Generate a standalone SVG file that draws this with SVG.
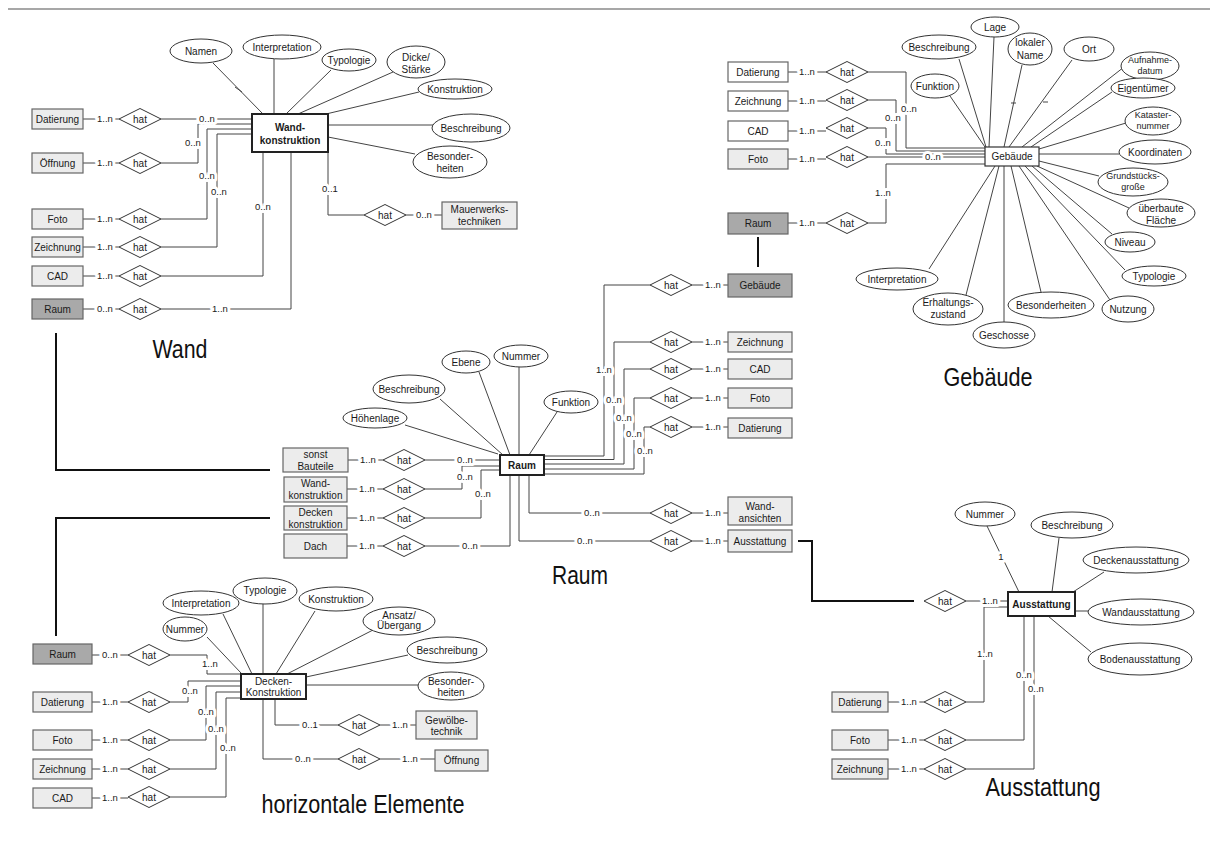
<svg xmlns="http://www.w3.org/2000/svg" xmlns:xlink="http://www.w3.org/1999/xlink" width="1214" height="865" viewBox="0 0 1214 865">
<style>
text{font-family:"Liberation Sans",Arial,sans-serif;font-size:10px;fill:#1a1a1a;text-anchor:middle}
.e{fill:#fff;stroke:#333;stroke-width:1}
.b{fill:#ececec;stroke:#666;stroke-width:1.2}
.bw{fill:#fff;stroke:#666;stroke-width:1.2}
.bd{fill:#a9a9a9;stroke:#666;stroke-width:1.2}
.m{fill:#fff;stroke:#222;stroke-width:2}
.dm{fill:#fff;stroke:#333;stroke-width:1}
.ln{fill:none;stroke:#444;stroke-width:1}
.th{fill:none;stroke:#111;stroke-width:2}
.c{font-size:9.5px;paint-order:stroke;stroke:#fff;stroke-width:6px;stroke-linejoin:round}
.s{font-size:9px}
.big{font-size:25px;fill:#111}
.bold{font-weight:bold}
</style>
<defs>
<polygon id="dm" class="dm" points="-21,0 0,-10.5 21,0 0,10.5"/>
</defs>
<rect width="1214" height="865" fill="#fff"/>
<line x1="8" y1="9" x2="1210" y2="9" stroke="#8a8a8a" stroke-width="1.5"/>

<g id="connectors">
<!-- Wand -->
<path class="ln" d="M83,119H119M161,119H252"/>
<path class="ln" d="M83,163H119M161,163H198V124H252"/>
<path class="ln" d="M83,219H119M161,219H207V129H252"/>
<path class="ln" d="M83,247H119M161,247H217V134H252"/>
<path class="ln" d="M83,276H119M161,276H263V152"/>
<path class="ln" d="M83,309H119M161,309H291V152"/>
<path class="ln" d="M213,63L263,114M274,59V114M331,70L286,114M393,72L298,114M419,92L326,114M328,125H433M328,137L415,154"/>
<path class="ln" d="M235,87L242,92"/>
<path class="ln" d="M328,152V215H364M406,215H442"/>
<!-- Raum -->
<path class="ln" d="M348,460H383M425,460H500"/>
<path class="ln" d="M347,489H383M425,489H462V466H500"/>
<path class="ln" d="M347,518H383M425,518H481V470H500"/>
<path class="ln" d="M347,546H383M425,546H510V475"/>
<path class="ln" d="M544,456H604V285H650M692,285H728"/>
<path class="ln" d="M544,459.5H614V342H650M692,342H728"/>
<path class="ln" d="M544,464H624V369H650M692,369H728"/>
<path class="ln" d="M544,469H634V398H650M692,398H728"/>
<path class="ln" d="M544,474H644V427H650M692,427H728"/>
<path class="ln" d="M529,475V513H650M692,513H728"/>
<path class="ln" d="M519,475V541H650M692,541H728"/>
<path class="ln" d="M405,425L498,454M440,399L503,455M479,372L510,455M519,367V455M557,412L529,455"/>
<!-- Gebaeude -->
<path class="ln" d="M788,72H826M868,72H906V148H985"/>
<path class="ln" d="M788,101H826M868,100H896V151H985"/>
<path class="ln" d="M788,131H826M868,128H886V154H985"/>
<path class="ln" d="M788,159H826M868,157H985"/>
<path class="ln" d="M788,223H826M868,223H886V164H985"/>
<path class="ln" d="M994,37L989,147M959,59L986,147M1022,65L1004,147M1072,60L1009,147M1124,67L1022,147M950,96L985,147M1112,92L1031,147M1126,123L1039,149M1039,154H1119M1039,161L1099,176M1037,166L1129,208M1032,166L1112,234M1025,166L1125,270M1019,166L1110,300M1011,166L1041,292M1004,166V322M999,166L966,295M995,166L929,269"/>
<path class="ln" d="M1011,103H1016M1043,102H1048"/>
<!-- Ausstattung -->
<path class="ln" d="M966,601H1008"/>
<path class="ln" d="M888,702H924M966,702H984V607H1008"/>
<path class="ln" d="M888,740H924M966,740H1024V616"/>
<path class="ln" d="M888,769H924M966,769H1034V616"/>
<path class="ln" d="M987,526L1019,592M1059,538L1052,592M1104,572L1073,592M1075,611H1088M1048,616L1091,652"/>
<!-- Decken -->
<path class="ln" d="M92,655H128M170,655H207V674H241"/>
<path class="ln" d="M92,702H128M170,702H188V681H241"/>
<path class="ln" d="M92,740H128M170,740H206V686H241"/>
<path class="ln" d="M92,769H128M170,769H216V692H241"/>
<path class="ln" d="M92,798H128M170,797H226V698H241"/>
<path class="ln" d="M207,637L241,673M223,614L252,674M263,604V674M315,611L276,674M373,630L287,674M306,677L408,655M306,685H418"/>
<path class="ln" d="M275,699V725H338M380,725H416"/>
<path class="ln" d="M263,699V759H338M380,759H435"/>
<!-- thick links -->
<path class="th" d="M56,333V470H270"/>
<path class="th" d="M270,518H56V636"/>
<path class="th" d="M758,237V267"/>
<path class="th" d="M798,541H812V601H914"/>
</g>

<g id="cardinalities">
<text class="c" x="105" y="122">1..n</text>
<text class="c" x="207" y="122">0..n</text>
<text class="c" x="105" y="166">1..n</text>
<text class="c" x="193" y="146">0..n</text>
<text class="c" x="105" y="222">1..n</text>
<text class="c" x="207" y="179">0..n</text>
<text class="c" x="105" y="250">1..n</text>
<text class="c" x="219" y="195">0..n</text>
<text class="c" x="105" y="279">1..n</text>
<text class="c" x="263" y="210">0..n</text>
<text class="c" x="105" y="312">0..n</text>
<text class="c" x="220" y="312">1..n</text>
<text class="c" x="330" y="192">0..1</text>
<text class="c" x="424" y="218">0..n</text>

<text class="c" x="368" y="463">1..n</text>
<text class="c" x="367" y="492">1..n</text>
<text class="c" x="367" y="521">1..n</text>
<text class="c" x="367" y="549">1..n</text>
<text class="c" x="465" y="463">0..n</text>
<text class="c" x="465" y="480">0..n</text>
<text class="c" x="483" y="497">0..n</text>
<text class="c" x="470" y="549">0..n</text>
<text class="c" x="604" y="373">1..n</text>
<text class="c" x="614" y="403">0..n</text>
<text class="c" x="624" y="421">0..n</text>
<text class="c" x="634" y="437">0..n</text>
<text class="c" x="645" y="454">0..n</text>
<text class="c" x="592" y="516">0..n</text>
<text class="c" x="585" y="544">0..n</text>
<text class="c" x="713" y="288">1..n</text>
<text class="c" x="713" y="345">1..n</text>
<text class="c" x="713" y="372">1..n</text>
<text class="c" x="713" y="401">1..n</text>
<text class="c" x="713" y="430">1..n</text>
<text class="c" x="713" y="516">1..n</text>
<text class="c" x="713" y="544">1..n</text>

<text class="c" x="807" y="75">1..n</text>
<text class="c" x="807" y="104">1..n</text>
<text class="c" x="807" y="134">1..n</text>
<text class="c" x="807" y="162">1..n</text>
<text class="c" x="807" y="226">1..n</text>
<text class="c" x="909" y="112">0..n</text>
<text class="c" x="893" y="121">0..n</text>
<text class="c" x="883" y="146">0..n</text>
<text class="c" x="933" y="160">0..n</text>
<text class="c" x="883" y="196">1..n</text>

<text class="c" x="990" y="604">1..n</text>
<text class="c" x="909" y="705">1..n</text>
<text class="c" x="909" y="743">1..n</text>
<text class="c" x="909" y="772">1..n</text>
<text class="c" x="985" y="657">1..n</text>
<text class="c" x="1024" y="678">0..n</text>
<text class="c" x="1036" y="692">0..n</text>
<text class="c" x="1001" y="560">1</text>

<text class="c" x="110" y="658">0..n</text>
<text class="c" x="210" y="667">1..n</text>
<text class="c" x="110" y="705">1..n</text>
<text class="c" x="110" y="743">1..n</text>
<text class="c" x="110" y="772">1..n</text>
<text class="c" x="110" y="801">1..n</text>
<text class="c" x="190" y="694">0..n</text>
<text class="c" x="206" y="715">0..n</text>
<text class="c" x="216" y="732">0..n</text>
<text class="c" x="228" y="751">0..n</text>
<text class="c" x="310" y="728">0..1</text>
<text class="c" x="400" y="728">1..n</text>
<text class="c" x="303" y="762">0..n</text>
<text class="c" x="410" y="762">1..n</text>
</g>

<!-- ===== Wand ===== -->
<g id="wand-konstruktion"><rect class="m" x="252" y="114" width="76" height="38"/><text class="bold" x="290" y="130.5">Wand-</text><text class="bold" x="290" y="143.5">konstruktion</text></g>
<g id="w-namen"><ellipse class="e" cx="201" cy="51" rx="31" ry="12"/><text x="201" y="54.5">Namen</text></g>
<g id="w-interpretation"><ellipse class="e" cx="282" cy="47" rx="39" ry="12"/><text x="282" y="50.5">Interpretation</text></g>
<g id="w-typologie"><ellipse class="e" cx="349" cy="60" rx="27" ry="11"/><text x="349" y="63.5">Typologie</text></g>
<g id="w-dicke"><ellipse class="e" cx="416" cy="62" rx="29" ry="16"/><text x="416" y="61">Dicke/</text><text x="416" y="72.5">Stärke</text></g>
<g id="w-konstruktion"><ellipse class="e" cx="455" cy="89" rx="37" ry="10"/><text x="455" y="92.5">Konstruktion</text></g>
<g id="w-beschreibung"><ellipse class="e" cx="471" cy="128" rx="39" ry="14"/><text x="471" y="131.5">Beschreibung</text></g>
<g id="w-besonderheiten"><ellipse class="e" cx="450" cy="162" rx="37" ry="16"/><text x="450" y="160">Besonder-</text><text x="450" y="171.5">heiten</text></g>
<g id="w-datierung"><rect class="b" x="32" y="109" width="51" height="20"/><text x="57.5" y="122.5">Datierung</text></g>
<g id="w-oeffnung"><rect class="b" x="32" y="153" width="51" height="20"/><text x="57.5" y="166.5">Öffnung</text></g>
<g id="w-foto"><rect class="b" x="32" y="209" width="51" height="20"/><text x="57.5" y="222.5">Foto</text></g>
<g id="w-zeichnung"><rect class="b" x="32" y="237" width="51" height="20"/><text x="57.5" y="250.5">Zeichnung</text></g>
<g id="w-cad"><rect class="b" x="32" y="266" width="51" height="20"/><text x="57.5" y="279.5">CAD</text></g>
<g id="w-raum"><rect class="bd" x="32" y="299" width="51" height="20"/><text x="57.5" y="312.5">Raum</text></g>
<g id="w-mauerwerk"><rect class="b" x="442" y="202" width="75" height="27"/><text x="479.5" y="213">Mauerwerks-</text><text x="479.5" y="224.5">techniken</text></g>
<g id="w-hat1"><use href="#dm" x="140" y="119"/><text x="140" y="122.5">hat</text></g>
<g id="w-hat2"><use href="#dm" x="140" y="163"/><text x="140" y="166.5">hat</text></g>
<g id="w-hat3"><use href="#dm" x="140" y="219"/><text x="140" y="222.5">hat</text></g>
<g id="w-hat4"><use href="#dm" x="140" y="247"/><text x="140" y="250.5">hat</text></g>
<g id="w-hat5"><use href="#dm" x="140" y="276"/><text x="140" y="279.5">hat</text></g>
<g id="w-hat6"><use href="#dm" x="140" y="309"/><text x="140" y="312.5">hat</text></g>
<g id="w-hat7"><use href="#dm" x="385" y="215"/><text x="385" y="218.5">hat</text></g>
<g id="label-wand"><text class="big" x="180" y="358" textLength="55" lengthAdjust="spacingAndGlyphs">Wand</text></g>

<!-- ===== Raum ===== -->
<g id="raum"><rect class="m" x="500" y="455" width="44" height="20"/><text class="bold" x="522" y="468.5">Raum</text></g>
<g id="r-hoehenlage"><ellipse class="e" cx="375" cy="418" rx="32" ry="10"/><text x="375" y="421.5">Höhenlage</text></g>
<g id="r-beschreibung"><ellipse class="e" cx="409" cy="389" rx="36" ry="14"/><text x="409" y="392.5">Beschreibung</text></g>
<g id="r-ebene"><ellipse class="e" cx="466" cy="362" rx="24" ry="11"/><text x="466" y="365.5">Ebene</text></g>
<g id="r-nummer"><ellipse class="e" cx="521" cy="356" rx="27" ry="11"/><text x="521" y="359.5">Nummer</text></g>
<g id="r-funktion"><ellipse class="e" cx="571" cy="402" rx="27" ry="11"/><text x="571" y="405.5">Funktion</text></g>
<g id="r-sonst"><rect class="b" x="283" y="448" width="65" height="24"/><text x="315.5" y="458">sonst</text><text x="315.5" y="469.5">Bauteile</text></g>
<g id="r-wandkonstruktion"><rect class="b" x="284" y="477" width="63" height="25"/><text x="315.5" y="487">Wand-</text><text x="315.5" y="498.5">konstruktion</text></g>
<g id="r-decken"><rect class="b" x="284" y="506" width="63" height="24"/><text x="315.5" y="516">Decken</text><text x="315.5" y="527.5">konstruktion</text></g>
<g id="r-dach"><rect class="b" x="284" y="534" width="63" height="24"/><text x="315.5" y="549.5">Dach</text></g>
<g id="r-hat1"><use href="#dm" x="404" y="460"/><text x="404" y="463.5">hat</text></g>
<g id="r-hat2"><use href="#dm" x="404" y="489"/><text x="404" y="492.5">hat</text></g>
<g id="r-hat3"><use href="#dm" x="404" y="518"/><text x="404" y="521.5">hat</text></g>
<g id="r-hat4"><use href="#dm" x="404" y="546"/><text x="404" y="549.5">hat</text></g>
<g id="r-hat5"><use href="#dm" x="671" y="285"/><text x="671" y="288.5">hat</text></g>
<g id="r-hat6"><use href="#dm" x="671" y="342"/><text x="671" y="345.5">hat</text></g>
<g id="r-hat7"><use href="#dm" x="671" y="369"/><text x="671" y="372.5">hat</text></g>
<g id="r-hat8"><use href="#dm" x="671" y="398"/><text x="671" y="401.5">hat</text></g>
<g id="r-hat9"><use href="#dm" x="671" y="427"/><text x="671" y="430.5">hat</text></g>
<g id="r-hat10"><use href="#dm" x="671" y="513"/><text x="671" y="516.5">hat</text></g>
<g id="r-hat11"><use href="#dm" x="671" y="541"/><text x="671" y="544.5">hat</text></g>
<g id="r-gebaeude"><rect class="bd" x="728" y="274" width="64" height="23"/><text x="760" y="289">Gebäude</text></g>
<g id="r-zeichnung"><rect class="b" x="728" y="332" width="64" height="20"/><text x="760" y="345.5">Zeichnung</text></g>
<g id="r-cad"><rect class="b" x="728" y="359" width="64" height="20"/><text x="760" y="372.5">CAD</text></g>
<g id="r-foto"><rect class="b" x="728" y="388" width="64" height="20"/><text x="760" y="401.5">Foto</text></g>
<g id="r-datierung"><rect class="b" x="728" y="418" width="64" height="20"/><text x="760" y="431.5">Datierung</text></g>
<g id="r-wandansichten"><rect class="b" x="728" y="497" width="64" height="28"/><text x="760" y="510">Wand-</text><text x="760" y="521.5">ansichten</text></g>
<g id="r-ausstattung"><rect class="b" x="728" y="530" width="64" height="22"/><text x="760" y="544.5">Ausstattung</text></g>
<g id="label-raum"><text class="big" x="580" y="584" textLength="56" lengthAdjust="spacingAndGlyphs">Raum</text></g>

<!-- ===== Gebaeude ===== -->
<g id="gebaeude"><rect x="985" y="147" width="54" height="19" fill="#fff" stroke="#333" stroke-width="1.2"/><text x="1012" y="160">Gebäude</text></g>
<g id="g-lage"><ellipse class="e" cx="995" cy="27" rx="24" ry="10"/><text x="995" y="30.5">Lage</text></g>
<g id="g-beschreibung"><ellipse class="e" cx="939" cy="47" rx="37" ry="12"/><text x="939" y="50.5">Beschreibung</text></g>
<g id="g-lokalername"><ellipse class="e" cx="1030" cy="49" rx="22" ry="16"/><text x="1030" y="46">lokaler</text><text x="1030" y="58.5">Name</text></g>
<g id="g-ort"><ellipse class="e" cx="1089" cy="49" rx="25" ry="12"/><text x="1089" y="52.5">Ort</text></g>
<g id="g-aufnahmedatum"><ellipse class="e" cx="1150" cy="66" rx="29" ry="14"/><text class="s" x="1150" y="63">Aufnahme-</text><text class="s" x="1150" y="73.5">datum</text></g>
<g id="g-funktion"><ellipse class="e" cx="935" cy="86" rx="24" ry="12"/><text x="935" y="89.5">Funktion</text></g>
<g id="g-eigentuemer"><ellipse class="e" cx="1143" cy="88" rx="32" ry="10"/><text x="1143" y="91.5">Eigentümer</text></g>
<g id="g-katasternummer"><ellipse class="e" cx="1153" cy="121" rx="28" ry="14"/><text class="s" x="1153" y="118">Kataster-</text><text class="s" x="1153" y="128.5">nummer</text></g>
<g id="g-koordinaten"><ellipse class="e" cx="1155" cy="152" rx="36" ry="12"/><text x="1155" y="155.5">Koordinaten</text></g>
<g id="g-grundstueck"><ellipse class="e" cx="1133" cy="182" rx="35" ry="14"/><text class="s" x="1133" y="179">Grundstücks-</text><text class="s" x="1133" y="189.5">große</text></g>
<g id="g-ueberbaut"><ellipse class="e" cx="1161" cy="213" rx="34" ry="14"/><text x="1161" y="212">überbaute</text><text x="1161" y="223.5">Fläche</text></g>
<g id="g-niveau"><ellipse class="e" cx="1130" cy="242" rx="25" ry="10"/><text x="1130" y="245.5">Niveau</text></g>
<g id="g-typologie"><ellipse class="e" cx="1154" cy="276" rx="32" ry="10"/><text x="1154" y="279.5">Typologie</text></g>
<g id="g-nutzung"><ellipse class="e" cx="1128" cy="309" rx="26" ry="13"/><text x="1128" y="312.5">Nutzung</text></g>
<g id="g-besonderheiten"><ellipse class="e" cx="1051" cy="305" rx="43" ry="13"/><text x="1051" y="308.5">Besonderheiten</text></g>
<g id="g-geschosse"><ellipse class="e" cx="1004" cy="335" rx="31" ry="13"/><text x="1004" y="338.5">Geschosse</text></g>
<g id="g-erhaltung"><ellipse class="e" cx="948" cy="309" rx="35" ry="16"/><text x="948" y="306">Erhaltungs-</text><text x="948" y="317.5">zustand</text></g>
<g id="g-interpretation"><ellipse class="e" cx="897" cy="279" rx="41" ry="11"/><text x="897" y="282.5">Interpretation</text></g>
<g id="g-datierung"><rect class="bw" x="728" y="62" width="60" height="20"/><text x="758" y="75.5">Datierung</text></g>
<g id="g-zeichnung"><rect class="bw" x="728" y="91" width="60" height="20"/><text x="758" y="104.5">Zeichnung</text></g>
<g id="g-cad"><rect class="bw" x="728" y="121" width="60" height="20"/><text x="758" y="134.5">CAD</text></g>
<g id="g-foto"><rect class="b" x="728" y="149" width="60" height="20"/><text x="758" y="162.5">Foto</text></g>
<g id="g-raum"><rect class="bd" x="728" y="213" width="60" height="21"/><text x="758" y="227">Raum</text></g>
<g id="g-hat1"><use href="#dm" x="847" y="72"/><text x="847" y="75.5">hat</text></g>
<g id="g-hat2"><use href="#dm" x="847" y="100"/><text x="847" y="103.5">hat</text></g>
<g id="g-hat3"><use href="#dm" x="847" y="128"/><text x="847" y="131.5">hat</text></g>
<g id="g-hat4"><use href="#dm" x="847" y="157"/><text x="847" y="160.5">hat</text></g>
<g id="g-hat5"><use href="#dm" x="847" y="223"/><text x="847" y="226.5">hat</text></g>
<g id="label-gebaeude"><text class="big" x="988" y="386" textLength="89" lengthAdjust="spacingAndGlyphs">Gebäude</text></g>

<!-- ===== Ausstattung ===== -->
<g id="ausstattung"><rect class="m" x="1008" y="592" width="67" height="24"/><text class="bold" x="1041.5" y="607.5">Ausstattung</text></g>
<g id="a-hat0"><use href="#dm" x="945" y="601"/><text x="945" y="604.5">hat</text></g>
<g id="a-nummer"><ellipse class="e" cx="985" cy="514" rx="30" ry="12"/><text x="985" y="517.5">Nummer</text></g>
<g id="a-beschreibung"><ellipse class="e" cx="1072" cy="525" rx="41" ry="13"/><text x="1072" y="528.5">Beschreibung</text></g>
<g id="a-decken"><ellipse class="e" cx="1136" cy="560" rx="53" ry="13"/><text x="1136" y="563.5">Deckenausstattung</text></g>
<g id="a-wand"><ellipse class="e" cx="1141" cy="612" rx="53" ry="13"/><text x="1141" y="615.5">Wandausstattung</text></g>
<g id="a-boden"><ellipse class="e" cx="1140" cy="659" rx="52" ry="16"/><text x="1140" y="662.5">Bodenausstattung</text></g>
<g id="a-datierung"><rect class="b" x="832" y="692" width="56" height="20"/><text x="860" y="705.5">Datierung</text></g>
<g id="a-foto"><rect class="b" x="832" y="730" width="56" height="20"/><text x="860" y="743.5">Foto</text></g>
<g id="a-zeichnung"><rect class="b" x="832" y="759" width="56" height="20"/><text x="860" y="772.5">Zeichnung</text></g>
<g id="a-hat1"><use href="#dm" x="945" y="702"/><text x="945" y="705.5">hat</text></g>
<g id="a-hat2"><use href="#dm" x="945" y="740"/><text x="945" y="743.5">hat</text></g>
<g id="a-hat3"><use href="#dm" x="945" y="769"/><text x="945" y="772.5">hat</text></g>
<g id="label-ausstattung"><text class="big" x="1043" y="796" textLength="115" lengthAdjust="spacingAndGlyphs">Ausstattung</text></g>

<!-- ===== horizontale Elemente ===== -->
<g id="decken-konstruktion"><rect class="m" x="241" y="674" width="65" height="25"/><text x="273.5" y="685">Decken-</text><text x="273.5" y="696">Konstruktion</text></g>
<g id="h-nummer"><ellipse class="e" cx="185" cy="629" rx="22" ry="12"/><text x="185" y="632.5">Nummer</text></g>
<g id="h-interpretation"><ellipse class="e" cx="201" cy="603" rx="38" ry="12"/><text x="201" y="606.5">Interpretation</text></g>
<g id="h-typologie"><ellipse class="e" cx="265" cy="591" rx="32" ry="13"/><text x="265" y="593.5">Typologie</text></g>
<g id="h-konstruktion"><ellipse class="e" cx="336" cy="599" rx="37" ry="12"/><text x="336" y="602.5">Konstruktion</text></g>
<g id="h-ansatz"><ellipse class="e" cx="399" cy="621" rx="36" ry="14"/><text x="399" y="618.5">Ansatz/</text><text x="399" y="629">Übergang</text></g>
<g id="h-beschreibung"><ellipse class="e" cx="447" cy="650" rx="40" ry="13"/><text x="447" y="653.5">Beschreibung</text></g>
<g id="h-besonderheiten"><ellipse class="e" cx="451" cy="686" rx="33" ry="14"/><text x="451" y="684.5">Besonder-</text><text x="451" y="696">heiten</text></g>
<g id="h-raum"><rect class="bd" x="33" y="644" width="59" height="20"/><text x="62.5" y="657.5">Raum</text></g>
<g id="h-datierung"><rect class="b" x="33" y="692" width="59" height="20"/><text x="62.5" y="705.5">Datierung</text></g>
<g id="h-foto"><rect class="b" x="33" y="730" width="59" height="20"/><text x="62.5" y="743.5">Foto</text></g>
<g id="h-zeichnung"><rect class="b" x="33" y="759" width="59" height="20"/><text x="62.5" y="772.5">Zeichnung</text></g>
<g id="h-cad"><rect class="b" x="33" y="788" width="59" height="20"/><text x="62.5" y="801.5">CAD</text></g>
<g id="h-gewoelbe"><rect class="b" x="416" y="711" width="61" height="28"/><text x="446.5" y="724">Gewölbe-</text><text x="446.5" y="735">technik</text></g>
<g id="h-oeffnung"><rect class="b" x="435" y="750" width="53" height="21"/><text x="461.5" y="764">Öffnung</text></g>
<g id="h-hat1"><use href="#dm" x="149" y="655"/><text x="149" y="658.5">hat</text></g>
<g id="h-hat2"><use href="#dm" x="149" y="702"/><text x="149" y="705.5">hat</text></g>
<g id="h-hat3"><use href="#dm" x="149" y="740"/><text x="149" y="743.5">hat</text></g>
<g id="h-hat4"><use href="#dm" x="149" y="769"/><text x="149" y="772.5">hat</text></g>
<g id="h-hat5"><use href="#dm" x="149" y="797"/><text x="149" y="800.5">hat</text></g>
<g id="h-hat6"><use href="#dm" x="359" y="725"/><text x="359" y="728.5">hat</text></g>
<g id="h-hat7"><use href="#dm" x="359" y="759"/><text x="359" y="762.5">hat</text></g>
<g id="label-horizontal"><text class="big" x="363" y="813" textLength="203" lengthAdjust="spacingAndGlyphs">horizontale Elemente</text></g>
</svg>
